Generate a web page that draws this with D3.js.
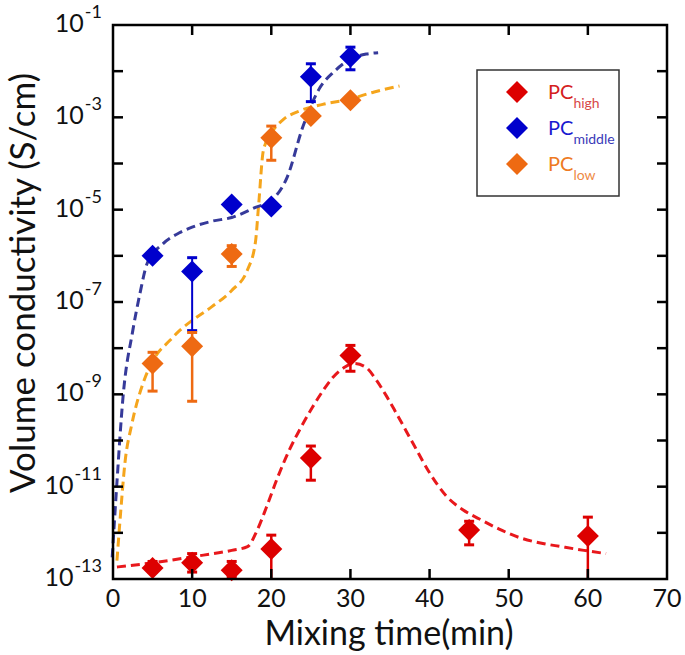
<!DOCTYPE html>
<html><head><meta charset="utf-8">
<script src="https://cdn.jsdelivr.net/npm/d3@7"></script>
<style>body{margin:0;background:#fff}svg{display:block}text{font-family:Lato,"Open Sans",sans-serif}</style>
</head><body><svg id="c" width="685" height="655"></svg>
<script>
// ---- data ----
const xTicks = [0,10,20,30,40,50,60,70];
const yTickExps = [-13,-12,-11,-10,-9,-8,-7,-6,-5,-4,-3,-2,-1];
const yLabelExps = [-13,-11,-9,-7,-5,-3,-1];

const times = [5,10,15,20,25,30];
const highTimes = [5,10,15,20,25,30,45,60];
// log10 values
const highVals  = [-12.76,-12.65,-12.81,-12.35,-10.38,-8.16,-11.94,-12.07];
const highUp    = [-12.62,-12.45,-12.62,-12.05,-10.12,-7.94,-11.75,-11.66];
const highLo    = [-12.85,-12.85,-12.95,-13.0,-10.86,-8.50,-12.26,-13.0];
const midVals   = [-6.0,-6.34,-4.89,-4.93,-2.12,-1.69];
const midUp     = [null,-6.04,null,null,-1.84,-1.48];
const midLo     = [null,-7.62,null,null,-2.66,-1.97];
const lowVals   = [-8.33,-7.96,-5.96,-3.44,-2.97,-2.63];
const lowUp     = [-8.09,-7.66,-5.78,-3.19,null,null];
const lowLo     = [-8.93,-9.15,-6.23,-3.93,null,null];

// fitted curves: [x, log10 y]
const highFitX = [0.5,5,10,15,17,18.2,19.4,20.8,22.3,23.8,25.2,26.5,27.8,29.2,30.5,32,33.3,34.6,35.8,37.9,40,42.1,44.2,46.3,48.8,51.3,54,56.7,59.5,62.3];
const highFitY = [-12.74,-12.65,-12.52,-12.38,-12.3,-11.95,-11.44,-10.8,-10.2,-9.7,-9.28,-8.93,-8.63,-8.42,-8.33,-8.42,-8.7,-9.05,-9.41,-10.06,-10.7,-11.2,-11.5,-11.7,-11.92,-12.1,-12.22,-12.3,-12.38,-12.45];
const midFitX = [-0.1,0.5,1.26,2.5,3.4,4.3,6.3,8.4,10,12.5,15,18,20,22,24,26,28,30,32,33.5];
const midFitY = [-12.53,-10.9,-9.07,-7.62,-6.82,-6.17,-5.74,-5.5,-5.38,-5.25,-5.17,-4.95,-4.8,-4.3,-3.2,-2.4,-2.0,-1.74,-1.63,-1.6];
const lowFitX = [0.5,0.9,1.5,2.4,3.8,5.3,7.2,8.4,10,12.5,15,17,18,18.4,19,20.2,21.5,23.6,26.5,30,33,36.2];
const lowFitY = [-12.6,-11.7,-10.5,-9.63,-8.76,-8.2,-7.83,-7.62,-7.4,-7.1,-6.75,-6.3,-5.7,-4.9,-3.72,-3.29,-3.05,-2.86,-2.72,-2.6,-2.45,-2.32];

const series = [
  {key:"high", label:"high", x:highTimes, v:highVals, up:highUp, lo:highLo, fx:highFitX, fy:highFitY, mark:"#dd0000", line:"#e8181c", txt:"#d42020", sub:"#d84848"},
  {key:"middle", label:"middle", x:times, v:midVals, up:midUp, lo:midLo, fx:midFitX, fy:midFitY, mark:"#0000cc", line:"#363a9a", txt:"#1a1ad0", sub:"#3a3ab8"},
  {key:"low", label:"low", x:times, v:lowVals, up:lowUp, lo:lowLo, fx:lowFitX, fy:lowFitY, mark:"#ee6a12", line:"#f5a51c", txt:"#ee7a22", sub:"#ee8a44"}
];

// ---- drawing ----
const svg = d3.select("#c");
const L=113,R=667,T=25,B=579;
const x = d3.scaleLinear().domain([0,70]).range([L,R]);
const y = d3.scaleLog().domain([1e-13,1e-1]).range([B,T]);
const Y = e => y(Math.pow(10,e));

svg.append("clipPath").attr("id","cp").append("rect").attr("x",L-4).attr("y",T).attr("width",R-L+4).attr("height",B-T);

// fitted dashed curves (drawn under markers)
const lineGen = d3.line().curve(d3.curveMonotoneX);
series.slice().reverse().forEach(s=>{
  svg.append("path").attr("clip-path","url(#cp)")
    .attr("d", lineGen(s.fx.map((xx,i)=>[x(xx),Y(s.fy[i])])))
    .attr("fill","none").attr("stroke",s.line).attr("stroke-width",3)
    .attr("stroke-dasharray","9,5");
});

// error bars and markers
const diamond = (cx,cy,r)=>`M${cx},${cy-r}L${cx+r},${cy}L${cx},${cy+r}L${cx-r},${cy}Z`;
series.forEach(s=>{
  const g = svg.append("g");
  s.x.forEach((xx,i)=>{
    if(s.up[i]!=null){
      const cx=x(xx), y1=Y(s.up[i]), y2=Math.min(Y(s.lo[i]),B);
      g.append("line").attr("x1",cx).attr("x2",cx).attr("y1",y1).attr("y2",y2).attr("stroke",s.mark).attr("stroke-width",s.key==="middle"?2:2.5);
      g.append("line").attr("x1",cx-5).attr("x2",cx+5).attr("y1",y1).attr("y2",y1).attr("stroke",s.mark).attr("stroke-width",3);
      if(Y(s.lo[i])<B-1) g.append("line").attr("x1",cx-5).attr("x2",cx+5).attr("y1",y2).attr("y2",y2).attr("stroke",s.mark).attr("stroke-width",3);
    }
  });
  s.x.forEach((xx,i)=>{
    g.append("path").attr("d",diamond(x(xx),Y(s.v[i]),11)).attr("fill",s.mark);
  });
});

// frame
svg.append("rect").attr("x",L).attr("y",T).attr("width",R-L).attr("height",B-T).attr("fill","none").attr("stroke","#000").attr("stroke-width",2.5);

// ticks
const tg = svg.append("g").attr("stroke","#000").attr("stroke-width",2.5);
xTicks.slice(1,-1).forEach(t=>{
  tg.append("line").attr("x1",x(t)).attr("x2",x(t)).attr("y1",B).attr("y2",B-10);
  tg.append("line").attr("x1",x(t)).attr("x2",x(t)).attr("y1",T).attr("y2",T+10);
});
yTickExps.slice(1,-1).forEach(e=>{
  tg.append("line").attr("x1",L).attr("x2",L+10).attr("y1",Y(e)).attr("y2",Y(e));
  tg.append("line").attr("x1",R).attr("x2",R-10).attr("y1",Y(e)).attr("y2",Y(e));
});

// tick labels
xTicks.forEach(t=>{
  svg.append("text").attr("x",x(t)).attr("y",607).attr("text-anchor","middle").attr("font-size",25).attr("fill","#111").text(t);
});
yLabelExps.forEach(e=>{
  const t = svg.append("text").attr("x",102).attr("y",Y(e)+7).attr("text-anchor","end").attr("font-size",25).attr("fill","#111");
  t.append("tspan").text("10");
  t.append("tspan").attr("dy",-14).attr("dx",1).attr("font-size",18).text(e);
});

// axis titles
svg.append("text").attr("x",389).attr("y",645).attr("text-anchor","middle").attr("font-size",34).attr("fill","#111").text("Mixing time(min)");
svg.append("text").attr("transform","translate(35,283) rotate(-90)").attr("text-anchor","middle").attr("font-size",35).attr("fill","#111").text("Volume conductivity (S/cm)");

// legend
svg.append("rect").attr("x",477).attr("y",70).attr("width",142).attr("height",126).attr("fill","#fff").attr("stroke","#333").attr("stroke-width",1.5);
series.forEach((s,i)=>{
  const cy = 92 + i*36;
  svg.append("path").attr("d",diamond(517,cy,11)).attr("fill",s.mark);
  const t = svg.append("text").attr("x",548).attr("y",cy+7).attr("font-size",20).attr("fill",s.txt);
  t.append("tspan").text("PC");
  t.append("tspan").attr("dy",9).attr("font-size",14).attr("fill",s.sub).text(s.label);
});
</script></body></html>
